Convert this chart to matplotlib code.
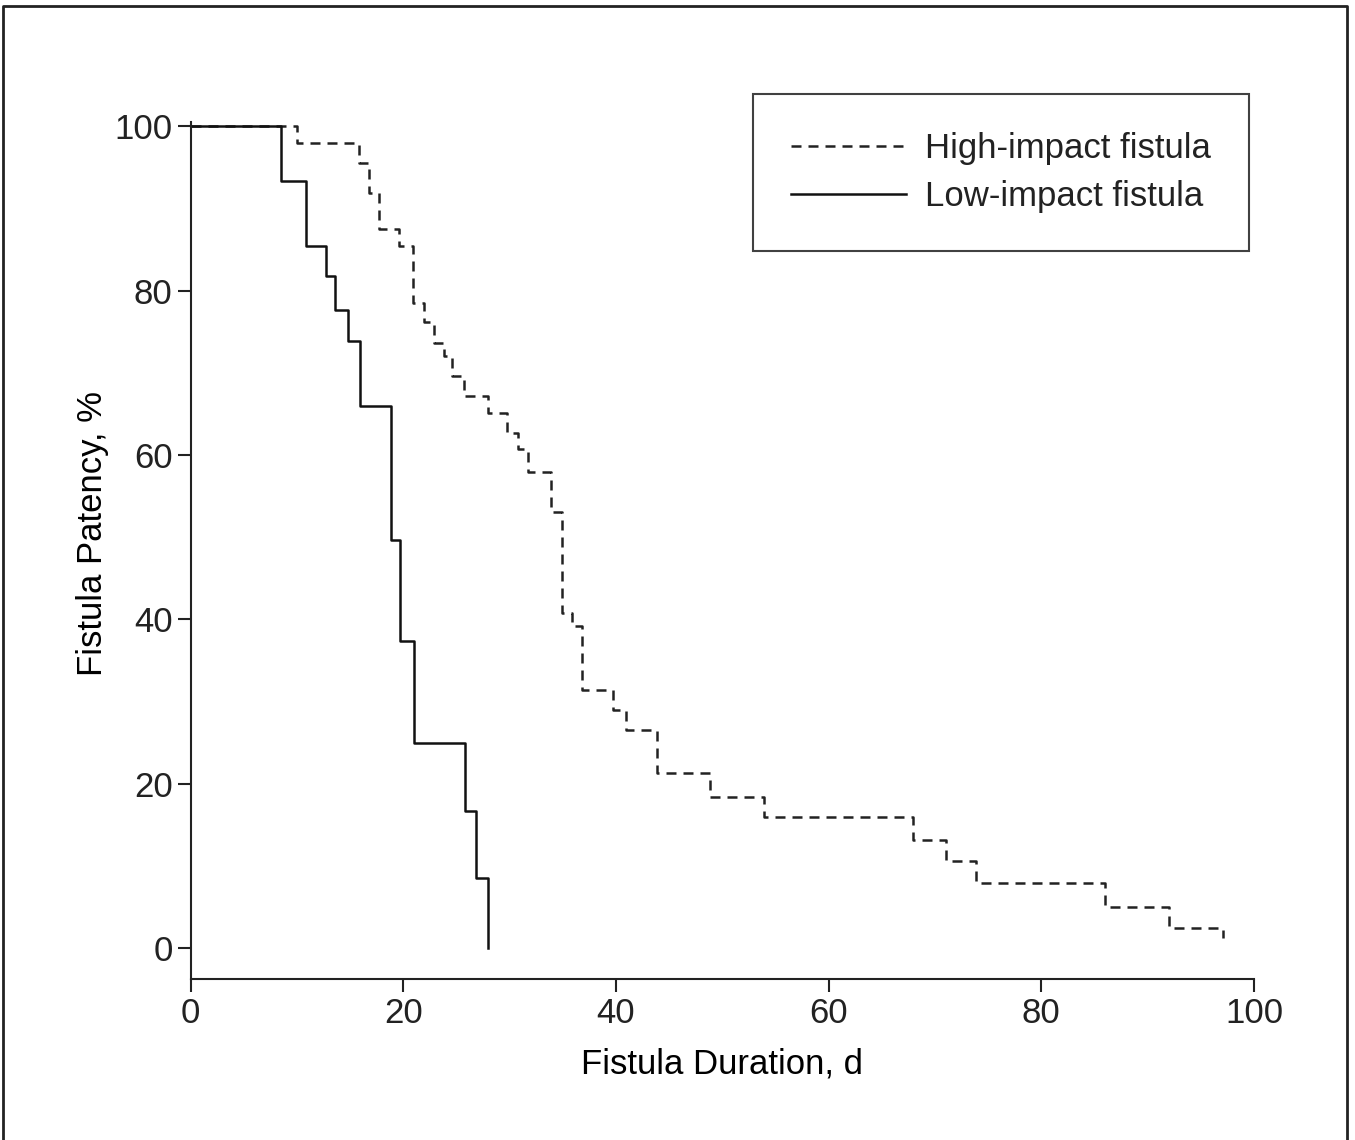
import matplotlib
matplotlib.use("Agg")
import matplotlib.pyplot as plt
from matplotlib.lines import Line2D

# Kaplan-Meier step data (days, % patent)
high_days = [0, 10.0, 15.8, 16.8, 17.7, 19.6, 20.9, 21.9, 22.9, 23.8, 24.6, 25.7,
             28.0, 29.7, 30.8, 31.7, 33.9, 34.9, 35.9, 36.8, 39.7, 40.9, 43.9,
             48.8, 53.9, 67.9, 71.0, 73.9, 86.0, 92.0, 97.1]
high_patency = [100, 98.0, 95.6, 91.9, 87.5, 85.4, 78.5, 76.2, 73.6, 72.0, 69.6, 67.2,
                65.1, 62.7, 60.7, 58.0, 53.1, 40.8, 39.2, 31.4, 29.0, 26.6, 21.3,
                18.4, 16.0, 13.2, 10.6, 7.9, 5.0, 2.4, 1.2]

low_days = [0, 8.5, 10.8, 12.7, 13.6, 14.8, 15.9, 18.8, 19.7, 21.0, 25.8, 26.8, 28.0]
low_patency = [100, 93.4, 85.5, 81.8, 77.6, 73.9, 66.0, 49.7, 37.4, 24.9, 16.7, 8.5, 0]

x_ticks = [0, 20, 40, 60, 80, 100]
y_ticks = [0, 20, 40, 60, 80, 100]

FS = 25
plt.rcParams["font.family"] = ["Liberation Sans", "DejaVu Sans"]
plt.rcParams["font.size"] = FS
plt.rcParams["text.color"] = "#222222"
plt.rcParams["xtick.color"] = "#222222"
plt.rcParams["ytick.color"] = "#222222"

W, H = 1355, 1140
ax_w, ax_h = 1254 - 190.7, 857
fig = plt.figure(figsize=(W / 100, H / 100), dpi=100)
ax = fig.add_axes([190.7 / W, 1 - 979.3 / H, ax_w / W, ax_h / H])

ax.step(high_days, high_patency, where="post", color="#222222", lw=1.8,
        ls=(0, (4.0, 2.8)), label="High-impact fistula", clip_on=False)
ax.step(low_days, low_patency, where="post", color="#111111", lw=1.8,
        label="Low-impact fistula", clip_on=False)

ax.set_xlim(0, 100)
ax.set_ylim(-3.8, 100.5)
ax.set_xticks(x_ticks)
ax.set_yticks(y_ticks)
ax.spines["top"].set_visible(False)
ax.spines["right"].set_visible(False)
for s in ("left", "bottom"):
    ax.spines[s].set_linewidth(1.5)
    ax.spines[s].set_color("#222222")
ax.tick_params(direction="out", length=9.5, width=1.5, labelsize=FS)
ax.tick_params(axis="x", pad=3)
ax.tick_params(axis="y", pad=3.5)

ax.set_xlabel("Fistula Duration, d", fontsize=FS, labelpad=13)
ax.set_ylabel("Fistula Patency, %", fontsize=FS)
ax.yaxis.set_label_coords((109 - 190.7) / ax_w, (979.3 - 533) / ax_h)

leg = ax.legend(loc="upper right", bbox_to_anchor=(1249 / W, 1 - 94 / H),
                bbox_transform=fig.transFigure, borderaxespad=0,
                borderpad=1.1, handlelength=3.3, handletextpad=0.55,
                labelspacing=0.42, fancybox=False, fontsize=FS)
leg.get_frame().set_edgecolor("#111111")
leg.get_frame().set_linewidth(1.5)

# outer frame of the figure panel
fx = [3 / W, 3 / W, 1347 / W, 1347 / W]
fy = [0, 1 - 6 / H, 1 - 6 / H, 0]
fig.add_artist(Line2D(fx, fy, transform=fig.transFigure, color="#222222", lw=2))

fig.savefig("out.png", dpi=100)
